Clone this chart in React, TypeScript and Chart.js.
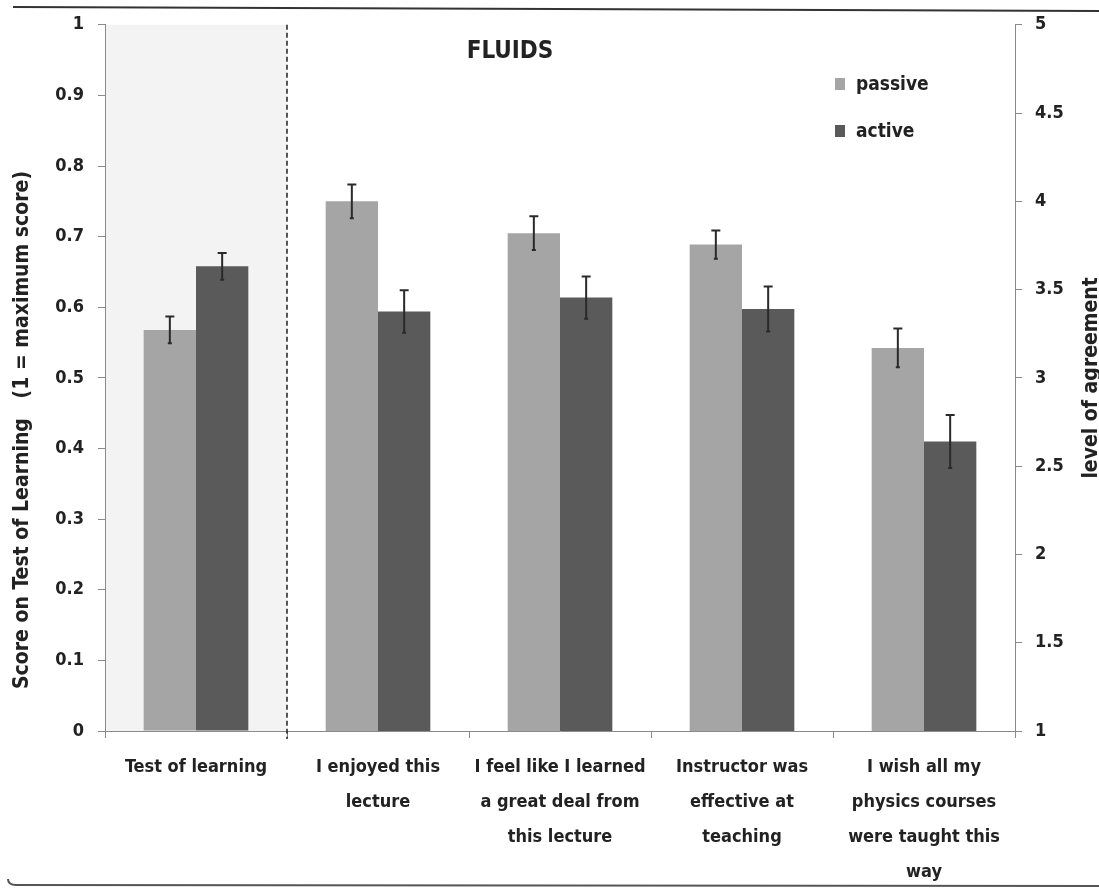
import React, { useEffect, useRef } from "react";
import { Chart, registerables } from "chart.js";

Chart.register(...registerables);

// ---------- data ----------
const categories: string[][] = [
  ["Test of learning"],
  ["I enjoyed this", "lecture"],
  ["I feel like I learned", "a great deal from", "this lecture"],
  ["Instructor was", "effective at", "teaching"],
  ["I wish all my", "physics courses", "were taught this", "way"],
];
const seriesNames = ["passive", "active"];
const seriesColors = ["#a5a5a5", "#5a5a5a"];

// "Test of learning" category, left axis (score, 1 = maximum)
const testPassive = [0.568];
const testPassiveErr = [0.019];
const testActive = [0.658];
const testActiveErr = [0.019];

// survey categories, right axis (level of agreement 1-5)
const surveyPassive = [4.0, 3.82, 3.755, 3.17];
const surveyPassiveErr = [0.096, 0.095, 0.08, 0.11];
const surveyActive = [3.376, 3.455, 3.39, 2.64];
const surveyActiveErr = [0.12, 0.12, 0.127, 0.15];

const scoreRange = [0, 1, 0.1];
const agreementRange = [1, 5, 0.5];

const chartTitle = "FLUIDS";
const leftTitle = "Score on Test of Learning   (1 = maximum score)";
const rightTitle = "level of agreement";

// ---------- styles ----------
const FONT = "'DejaVu Sans Condensed', 'Liberation Sans Narrow', sans-serif";
const TEXT = "#222222";
const W = 1099;
const H = 888;

const pad = (n: number) => Array(n).fill(null);
const fmt = (v: any) => String(Number(Number(v).toFixed(2)));

const decorPlugin = {
  id: "decor",
  beforeDatasetsDraw(chart: any) {
    const { ctx, chartArea, scales } = chart;
    const x = scales.x;
    const boundary = (x.getPixelForValue(0) + x.getPixelForValue(1)) / 2;
    ctx.save();
    ctx.fillStyle = "#f3f3f3";
    ctx.fillRect(chartArea.left + 1, chartArea.top, boundary - chartArea.left - 1, chartArea.bottom - chartArea.top);
    ctx.restore();
  },
  afterDatasetsDraw(chart: any) {
    const { ctx, chartArea, scales } = chart;
    // error bars
    chart.data.datasets.forEach((ds: any, i: number) => {
      const meta = chart.getDatasetMeta(i);
      const scale = scales[ds.yAxisID];
      meta.data.forEach((el: any, j: number) => {
        const v = ds.data[j];
        const e = ds.errors[j];
        if (v == null || e == null) return;
        const cx = el.x;
        const yt = scale.getPixelForValue(v + e);
        const yb = scale.getPixelForValue(v - e);
        ctx.save();
        ctx.strokeStyle = "#2a2a2a";
        ctx.lineWidth = 2;
        ctx.beginPath();
        ctx.moveTo(cx, yt);
        ctx.lineTo(cx, yb);
        ctx.moveTo(cx - 4.5, yt);
        ctx.lineTo(cx + 4.5, yt);
        ctx.moveTo(cx - 2, yb);
        ctx.lineTo(cx + 2, yb);
        ctx.stroke();
        ctx.restore();
      });
    });
    // dashed divider
    const x = scales.x;
    const boundary = (x.getPixelForValue(0) + x.getPixelForValue(1)) / 2;
    ctx.save();
    ctx.strokeStyle = "#222";
    ctx.lineWidth = 1.5;
    ctx.setLineDash([5, 3]);
    ctx.beginPath();
    ctx.moveTo(boundary, chartArea.top);
    ctx.lineTo(boundary, chartArea.bottom + 8);
    ctx.stroke();
    ctx.restore();
  },
  afterDraw(chart: any) {
    const { ctx, chartArea } = chart;
    ctx.save();
    ctx.fillStyle = TEXT;
    // chart title
    ctx.font = `bold 24px ${FONT}`;
    ctx.textAlign = "center";
    ctx.textBaseline = "alphabetic";
    ctx.fillText(chartTitle, 510, 58);
    // left axis title
    ctx.save();
    ctx.translate(28, 430);
    ctx.rotate(-Math.PI / 2);
    ctx.font = `bold 21px ${FONT}`;
    ctx.textAlign = "center";
    ctx.fillText(leftTitle, 0, 0);
    ctx.restore();
    // right axis title
    ctx.save();
    ctx.translate(1097, (chartArea.top + chartArea.bottom) / 2);
    ctx.rotate(-Math.PI / 2);
    ctx.font = `bold 21px ${FONT}`;
    ctx.textAlign = "center";
    ctx.fillText(rightTitle, 0, 0);
    ctx.restore();
    // legend
    ctx.font = `bold 19px ${FONT}`;
    ctx.textAlign = "left";
    ctx.textBaseline = "middle";
    const ys = [84, 131];
    [0, 1].forEach((i) => {
      const ds = chart.data.datasets[i];
      ctx.fillStyle = ds.backgroundColor;
      ctx.fillRect(835, ys[i] - 6, 10, 12);
      ctx.fillStyle = TEXT;
      ctx.fillText(ds.label, 856, ys[i] + 1);
    });
    // frame lines of the figure
    ctx.strokeStyle = "#333";
    ctx.lineWidth = 2;
    ctx.beginPath();
    ctx.moveTo(13, 7);
    ctx.lineTo(W, 11);
    ctx.stroke();
    ctx.strokeStyle = "#555";
    ctx.beginPath();
    ctx.moveTo(8, 879);
    ctx.quadraticCurveTo(8, 885, 16, 885);
    ctx.lineTo(W, 886);
    ctx.stroke();
    ctx.restore();
  },
};

export default function App() {
  const ref = useRef<HTMLCanvasElement | null>(null);

  useEffect(() => {
    if (!ref.current) return;
    const nS = surveyPassive.length;
    const nT = testPassive.length;
    const chart = new Chart(ref.current, {
      type: "bar",
      data: {
        labels: categories,
        datasets: [
          {
            label: seriesNames[0],
            data: [...testPassive, ...pad(nS)],
            errors: [...testPassiveErr, ...pad(nS)],
            backgroundColor: seriesColors[0],
            yAxisID: "y",
          } as any,
          {
            label: seriesNames[1],
            data: [...testActive, ...pad(nS)],
            errors: [...testActiveErr, ...pad(nS)],
            backgroundColor: seriesColors[1],
            yAxisID: "y",
          } as any,
          {
            label: seriesNames[0],
            data: [...pad(nT), ...surveyPassive],
            errors: [...pad(nT), ...surveyPassiveErr],
            backgroundColor: seriesColors[0],
            yAxisID: "y1",
          } as any,
          {
            label: seriesNames[1],
            data: [...pad(nT), ...surveyActive],
            errors: [...pad(nT), ...surveyActiveErr],
            backgroundColor: seriesColors[1],
            yAxisID: "y1",
          } as any,
        ],
      },
      options: {
        responsive: false,
        animation: false,
        devicePixelRatio: 1,
        skipNull: true,
        categoryPercentage: 0.575,
        barPercentage: 1,
        layout: { padding: { top: 23, left: 0, right: 0, bottom: 0 } },
        plugins: {
          legend: { display: false },
          tooltip: { enabled: false },
          title: { display: false },
        },
        scales: {
          x: {
            grid: {
              display: true,
              offset: true,
              drawOnChartArea: false,
              drawTicks: true,
              tickLength: 7,
              color: "#8a8a8a",
            },
            border: { display: true, color: "#8a8a8a", width: 1 },
            ticks: {
              color: TEXT,
              font: { family: FONT, size: 18, weight: "bold", lineHeight: 1.94 },
              padding: 12,
              maxRotation: 0,
              autoSkip: false,
            },
            afterFit: (s: any) => {
              s.height = 157;
            },
          },
          y: {
            position: "left",
            min: scoreRange[0],
            max: scoreRange[1],
            grid: { drawOnChartArea: false, drawTicks: true, tickLength: 7, color: "#8a8a8a" },
            border: { display: true, color: "#8a8a8a", width: 1 },
            ticks: {
              stepSize: scoreRange[2],
              color: TEXT,
              padding: 14,
              font: { family: FONT, size: 18, weight: "bold" },
              callback: fmt,
            },
            afterFit: (s: any) => {
              s.width = 105;
            },
          },
          y1: {
            position: "right",
            min: agreementRange[0],
            max: agreementRange[1],
            grid: { drawOnChartArea: false, drawTicks: true, tickLength: 7, color: "#8a8a8a" },
            border: { display: true, color: "#8a8a8a", width: 1 },
            ticks: {
              stepSize: agreementRange[2],
              color: TEXT,
              padding: 13,
              font: { family: FONT, size: 18, weight: "bold" },
              callback: fmt,
            },
            afterFit: (s: any) => {
              s.width = 84;
            },
          },
        },
      } as any,
      plugins: [decorPlugin],
    });
    return () => chart.destroy();
  }, []);

  return (
    <div style={{ position: "absolute", left: 0, top: 0, width: W, height: H, background: "#fff" }}>
      <canvas ref={ref} width={W} height={H} style={{ display: "block" }} />
    </div>
  );
}
